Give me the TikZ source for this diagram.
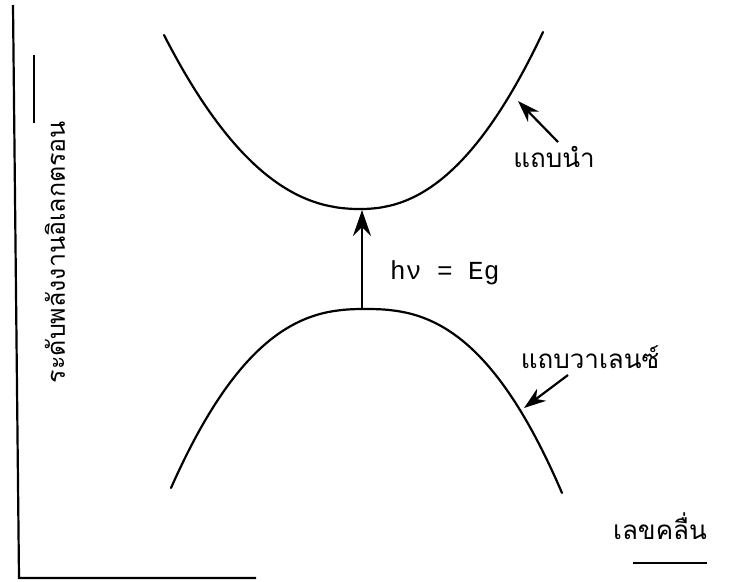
\documentclass[tikz,border=0pt]{standalone}
\usepackage{fontspec}
\newfontfamily\thaifont[Script=Thai]{Loma}
\setmonofont{Liberation Mono}
\usetikzlibrary{arrows.meta}
\begin{document}
\begin{tikzpicture}[x=1pt,y=-1pt,
  curve/.style={line width=2.2pt,line cap=round},
  axis/.style={line width=2.2pt},
  pointer/.style={line width=2.2pt,-{Stealth[length=22pt,width=15pt,inset=7pt]}},
  thailabel/.style={font=\thaifont\fontsize{26}{30}\selectfont,inner sep=0pt}]
\useasboundingbox (0,0) rectangle (746,581);
% axes
\coordinate (ytop) at (13,5);
\coordinate (origin) at (19,578);
\coordinate (xend) at (256,578);
\draw[axis] (ytop) -- (origin) -- (xend);
% conduction band
\draw[curve] plot[domain=164:360,samples=60] (\x,{209-174*((360-\x)/196)^2.2})
  -- plot[domain=360:543,samples=60] (\x,{209-177*((\x-360)/183)^2.2});
% valence band
\draw[curve] plot[domain=171:365,samples=60] (\x,{309+179*((365-\x)/194)^2.45})
  -- plot[domain=365:562,samples=60] (\x,{309+184*((\x-365)/197)^2.5});
% transition arrow
\coordinate (vbtop) at (362,308);
\coordinate (cbbot) at (362,210);
\draw[pointer,-{Stealth[length=26pt,width=18pt,inset=9pt]}] (vbtop) -- (cbbot);
\node[font=\ttfamily\fontsize{26}{30}\selectfont,anchor=west,inner sep=0pt] (eg) at (390,273) {hν = Eg};
% labels
\node[thailabel] (cb) at (554,157) {แถบนำ};
\coordinate (cbpt) at (518,101);
\coordinate (cbs) at (558,142);
\draw[pointer] (cbs) -- (cbpt);
\node[thailabel] (vb) at (590,357) {แถบวาเลนซ์};
\coordinate (vbpt) at (524,408);
\coordinate (vbs) at (568,375);
\draw[pointer] (vbs) -- (vbpt);
\node[thailabel] (kx) at (660,526) {เลขคลื่น};
\coordinate (kl1) at (633,563);
\coordinate (kl2) at (707,563);
\draw[line width=2pt] (kl1) -- (kl2);
\node[thailabel,font=\thaifont\fontsize{25}{30}\selectfont,rotate=90] (el) at (55,252) {ระดับพลังงานอิเลกตรอน};
\coordinate (el1) at (34,55);
\coordinate (el2) at (34,123);
\draw[line width=2pt] (el1) -- (el2);
\end{tikzpicture}
\end{document}
